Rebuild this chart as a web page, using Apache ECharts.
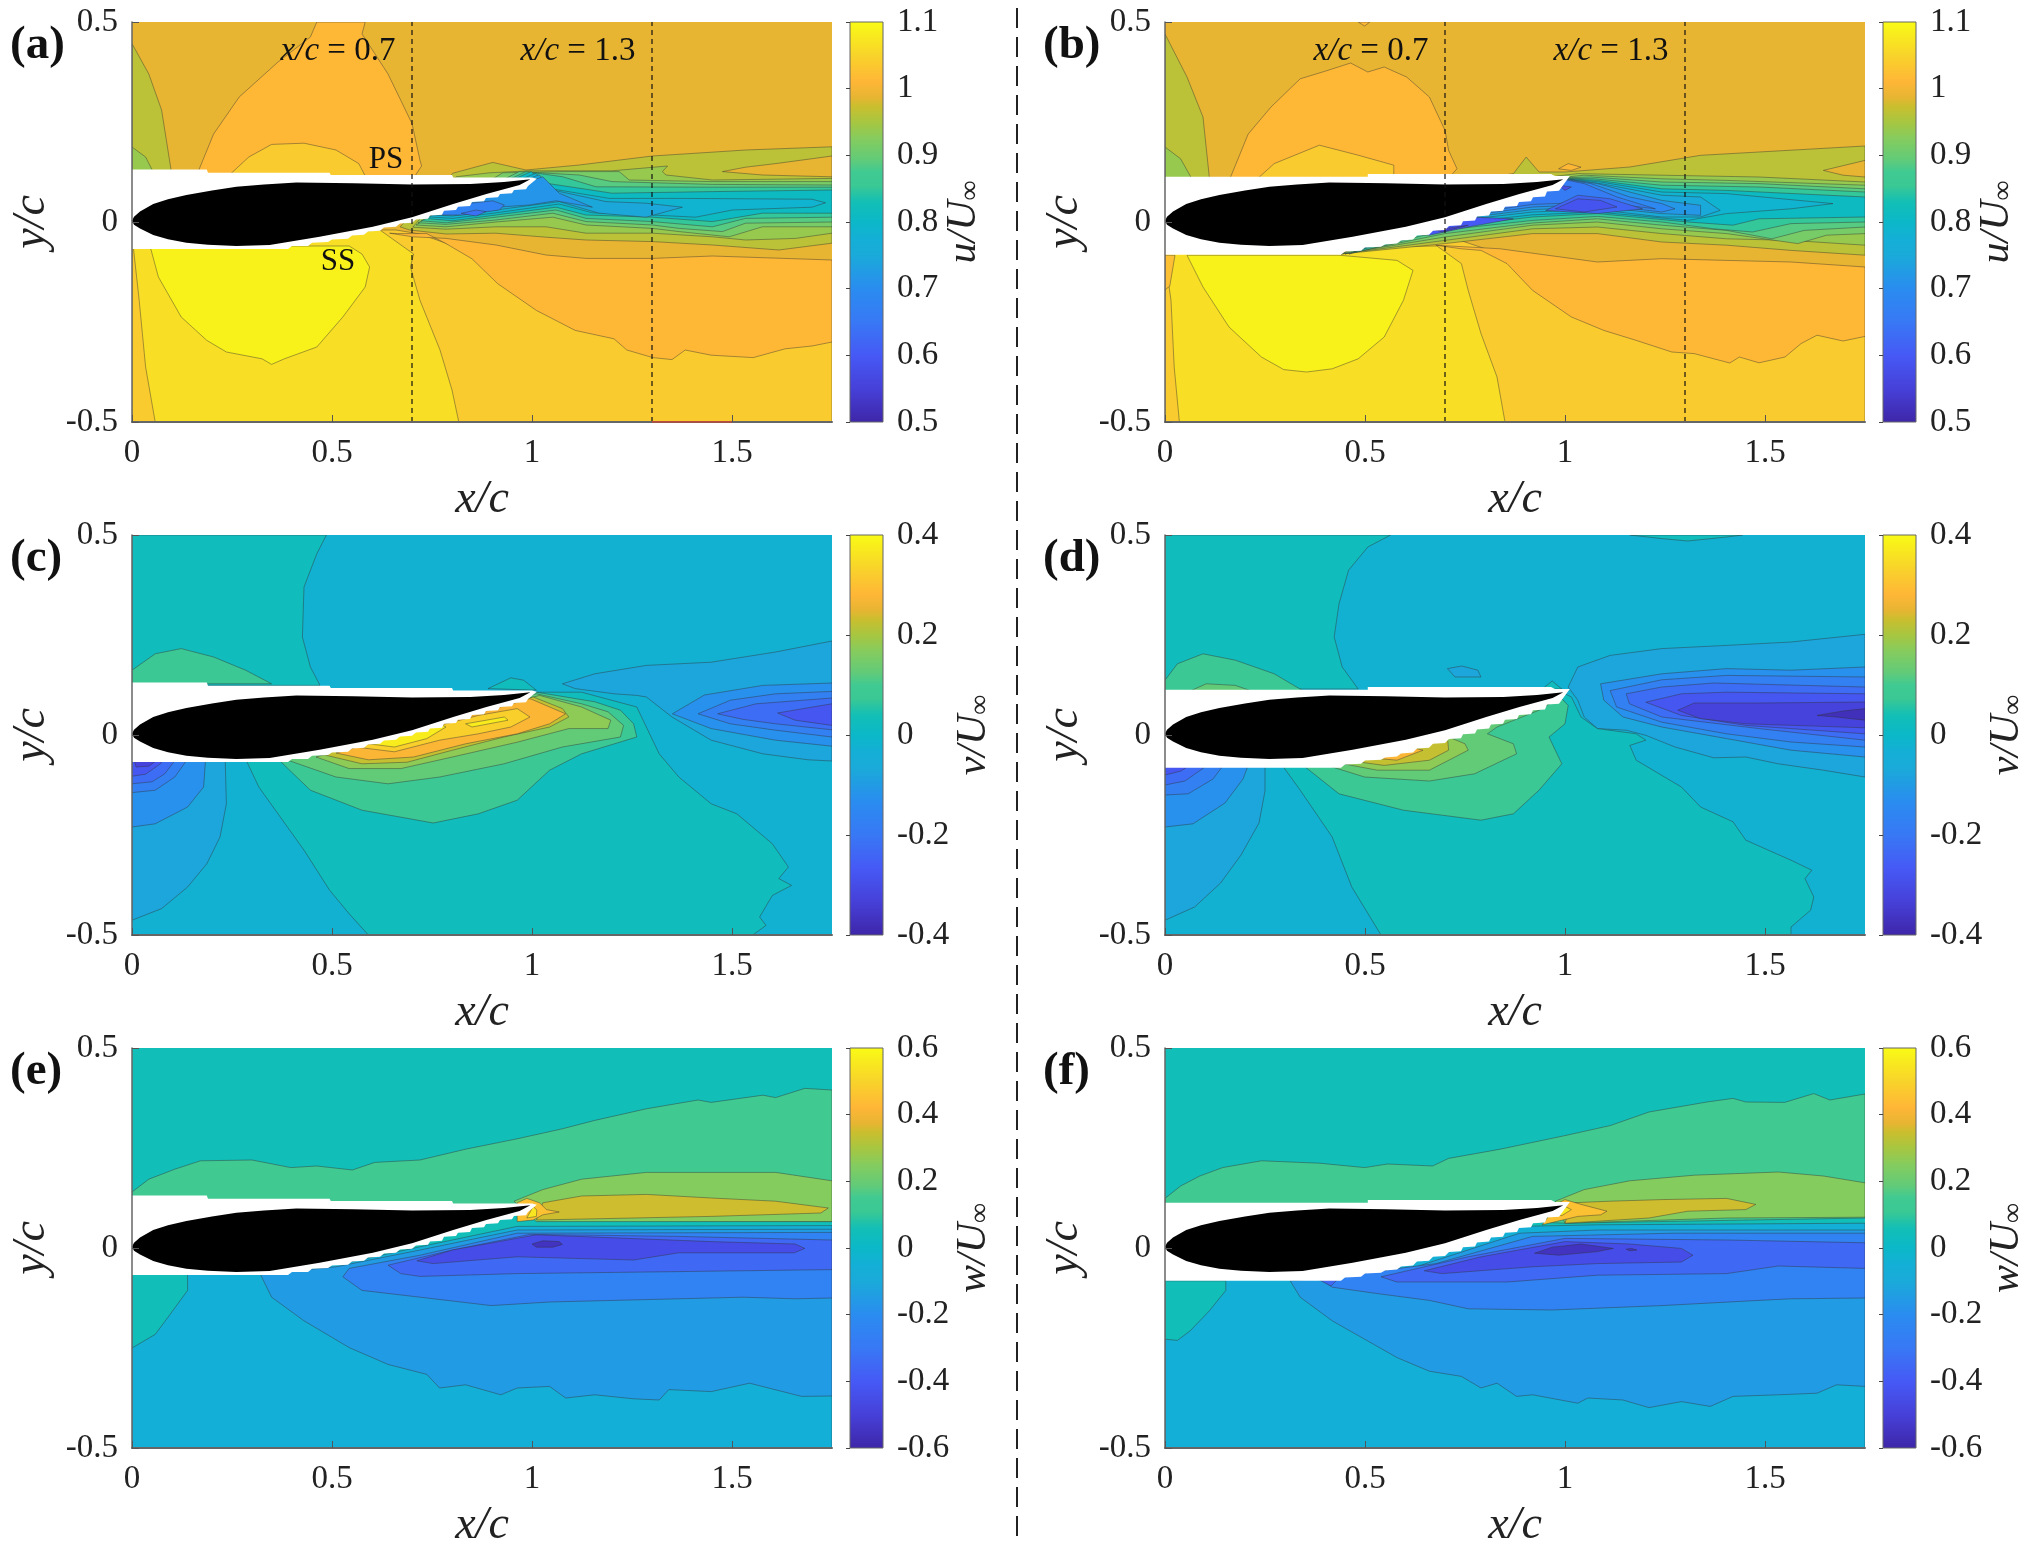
<!DOCTYPE html>
<html>
<head>
<meta charset="utf-8">
<style>html,body{margin:0;background:#fff}#main{width:2030px;height:1558px}</style>
<script src="https://cdn.jsdelivr.net/npm/echarts@6/dist/echarts.min.js"></script>
</head>
<body>
<div id="main"></div>
<script>
const xTicks = [0, 0.5, 1, 1.5]
const parulaStops = [[0,'#3E26A8'],[.083,'#4640D8'],[.167,'#4659F5'],[.25,'#3878F5'],[.333,'#2A8CF0'],[.417,'#1AAAD9'],[.458,'#14AFD6'],[.5,'#0BB8C8'],[.55,'#13BFB5'],[.59,'#3AC894'],[.625,'#40CA92'],[.656,'#62CB78'],[.708,'#85CC5E'],[.75,'#A8C640'],[.79,'#CCBE2E'],[.81,'#E6B532'],[.85,'#FFB637'],[.917,'#F8D42A'],[1,'#F9FB15']]

// foil outline and the blanked region round it (x/c, y/c pairs)
const foil = [0,.003,.005,.013,.02,.026,.053,.045,.09,.057,.136,.0675,.2,.079,.261,.088,.33,.094,.411,.099,.553,.097,.7,.094,.846,.095,.93,.1,.996,.107,.969,.0925,.886,.07,.803,.045,.7,.012,.602,-.012,.469,-.037,.344,-.0575,.261,-.06,.19,-.057,.136,-.052,.09,-.043,.053,-.0325,.02,-.016,.005,-.007]
const maskLeft = [0,.131,.187,.131,.19,.123,.494,.123,.497,.1175,.8,.1175,.803,.111,1,.111,1.012,.108,.99,.09,.985,.082,.955,.08,.95,.072,.92,.07,.915,.062,.885,.06,.88,.052,.85,.05,.845,.04,.815,.038,.81,.03,.78,.028,.775,.018,.745,.016,.74,.008,.71,.006,.7,-.002,.67,-.004,.66,-.012,.63,-.014,.62,-.022,.59,-.024,.58,-.032,.55,-.034,.54,-.042,.5,-.044,.49,-.05,.45,-.052,.44,-.06,.4,-.06,.39,-.0675,0,-.0675]
const maskRight = [0,.113,.507,.113,.507,.12,.965,.12,.975,.115,1.012,.115,.985,.078,.955,.076,.95,.064,.92,.062,.915,.052,.885,.05,.88,.04,.85,.038,.845,.028,.815,.026,.81,.016,.78,.014,.775,.004,.745,.002,.74,-.008,.71,-.01,.7,-.02,.67,-.022,.66,-.032,.63,-.034,.62,-.044,.59,-.046,.58,-.054,.55,-.056,.54,-.062,.5,-.064,.49,-.072,.45,-.074,.44,-.082,0,-.082]

// contour bands, painted in order: [band value, [x, y, x, y ...]]
const bandsA = [
[1.0125,[.163,.12,.204,.22,.268,.3125,.365,.4,.446,.4625,.462,.5,.583,.5,.575,.47,.64,.37,.672,.304,.7,.246,.72,.154,.724,.14,.704,.11]],
[1.0375,[.244,.118,.292,.1625,.349,.194,.43,.197,.51,.18,.567,.146,.583,.115]],
[.9625,[0,.446,.042,.37,.074,.28,.0985,.125,0,.125]],
[.9375,[0,.1875,.034,.1625,.053,.125,0,.125]],
[1.0375,[0,-.02,.66,-.02,.72,-.03,1.2,-.2,1.75,-.2,1.75,-.5,0,-.5]],
[1.0625,[.058,-.5,.034,-.3625,.018,-.196,.003,-.06,.62,-.02,.704,-.08,.696,-.1125,.72,-.196,.77,-.32,.8,-.42,.817,-.5]],
[1.0875,[.045,-.06,.066,-.1375,.123,-.2375,.187,-.296,.236,-.325,.325,-.342,.349,-.356,.381,-.342,.462,-.3125,.527,-.2375,.583,-.1625,.594,-.1125,.575,-.08,.543,-.06]],
[1.0125,[.644,-.028,.702,-.037,.785,-.041,.91,-.0575,1.035,-.0825,1.135,-.091,1.301,-.091,1.451,-.085,1.75,-.095,1.75,-.3,1.7,-.31,1.633,-.317,1.553,-.339,1.448,-.333,1.383,-.32,1.35,-.344,1.302,-.339,1.237,-.32,1.205,-.292,1.108,-.271,1.011,-.221,.914,-.154,.85,-.092,.785,-.054,.737,-.029,.664,-.029]],
[.9625,[.802,.122,.902,.149,.985,.13,1.118,.1425,1.301,.165,1.534,.18,1.75,.188,1.75,-.053,1.617,-.07,1.451,-.0575,1.301,-.049,1.135,-.045,1.035,-.038,.91,-.028,.785,-.03,.694,-.02,.67,-.012]],
[.9875,[1.476,.126,1.534,.137,1.617,.147,1.75,.165,1.75,.113,1.576,.1175]],
[.9375,[.81,.113,.894,.123,.993,.128,1.2,.128,1.339,.14,1.326,.126,1.335,.1175,1.451,.105,1.75,.109,1.75,-.028,1.659,-.041,1.534,-.045,1.451,-.037,1.301,-.028,1.135,-.028,1.035,-.012,.91,-.012,.785,-.018,.702,-.013]],
[.9125,[.927,.123,1.077,.126,1.218,.126,1.243,.105,1.451,.101,1.75,.101,1.75,-.012,1.576,-.012,1.493,-.037,1.368,-.024,1.301,-.016,1.135,-.0075,1.052,.012,.91,0,.785,-.012,.71,-.0075]],
[.8875,[.968,.126,1.118,.1175,1.2,.101,1.451,.094,1.75,.0925,1.75,0,1.534,-.003,1.476,-.024,1.368,-.016,1.301,-.0075,1.135,.001,1.052,.022,.91,.005,.785,-.006,.715,-.002]],
[.85,[.985,.126,1.077,.113,1.16,.088,1.451,.087,1.75,.087,1.75,.012,1.534,.009,1.451,-.012,1.301,.001,1.135,.009,1.06,.03,.91,.012,.785,-.002,.723,.003]],
[.81,[.998,.126,1.035,.097,1.2,.072,1.451,.076,1.75,.08,1.75,.022,1.576,.022,1.451,.001,1.301,.012,1.135,.0175,1.06,.037,.91,.0175,.802,.003,.731,.009]],
[.785,[1.01,.122,1.043,.084,1.193,.059,1.368,.059,1.7,.057,1.734,.048,1.7,.037,1.501,.03,1.409,.012,1.301,.0175,1.151,.023,1.068,.045,.91,.023,.802,.009,.74,.013]],
[.745,[1.018,.118,1.052,.08,1.185,.051,1.285,.047,1.376,.037,1.285,.012,1.168,.022,1.068,.051,.91,.03,.802,.015,.748,.0175]],
[.715,[1.027,.113,1.068,.072,1.151,.037,1.06,.053,.993,.0425,.91,.037,.802,.022,.756,.022]],
[.675,[.765,.026,.827,.045,.902,.053,.931,.0425,.918,.03,.827,.0175,.777,.0175]],
[.64,[.823,.0215,.86,.03,.885,.026,.86,.015]]
]
const bandsB = [
[1.0125,[.163,.11,.208,.22,.265,.2875,.338,.358,.402,.3775,.464,.3975,.507,.375,.548,.3875,.604,.3625,.661,.3125,.7,.229,.709,.179,.73,.133,.709,.11]],
[1.0125,[.483,.5,.499,.49,.512,.5]],
[1.0375,[.233,.11,.273,.146,.386,.192,.483,.167,.572,.142,.572,.11]],
[.9625,[0,.47,.055,.3625,.095,.2625,.111,.11,0,.11]],
[.9375,[0,.1875,.039,.158,.066,.11,0,.11]],
[1.0125,[.984,.133,1.008,.146,1.04,.137,1.016,.129]],
[1.0375,[0,-.02,.6,-.03,.72,-.04,1.2,-.2,1.75,-.2,1.75,-.5,0,-.5]],
[1.0625,[.036,-.5,.023,-.3625,.015,-.196,0,-.0875,0,-.07,.68,-.06,.741,-.104,.758,-.171,.79,-.279,.83,-.3875,.85,-.5]],
[1.0225,[0,-.083,.025,-.083,.012,-.16,0,-.17]],
[1.0875,[.055,-.083,.095,-.1625,.16,-.2625,.241,-.3375,.297,-.369,.354,-.375,.418,-.367,.483,-.342,.548,-.2875,.596,-.196,.62,-.121,.58,-.096,.435,-.083]],
[1.0125,[.677,-.058,.838,-.067,1.081,-.1,1.242,-.0917,1.404,-.096,1.565,-.1,1.75,-.1125,1.75,-.286,1.695,-.2975,1.63,-.283,1.59,-.304,1.55,-.3375,1.485,-.352,1.436,-.3375,1.412,-.3525,1.323,-.329,1.267,-.325,1.178,-.296,1.097,-.271,1.016,-.2375,.919,-.171,.855,-.104,.79,-.071,.741,-.067]],
[.9625,[.8,.11,.871,.121,.903,.1625,.935,.125,1,.125,1.162,.1375,1.339,.1667,1.485,.175,1.75,.19,1.75,-.083,1.565,-.071,1.404,-.058,1.242,-.05,1.081,-.029,.919,-.029,.7,-.054,.44,-.08]],
[.9875,[1.646,.129,1.75,.154,1.75,.1125,1.695,.117]],
[.9375,[1.032,.121,1.242,.117,1.485,.1125,1.75,.1,1.75,-.058,1.565,-.046,1.404,-.042,1.242,-.029,1.081,-.0125,.919,-.017,.7,-.046,.44,-.08,.98,.115]],
[.9125,[1.048,.117,1.242,.108,1.404,.104,1.75,.092,1.75,-.029,1.654,-.033,1.582,-.054,1.404,-.029,1.242,-.017,1.081,0,.919,-.008,.7,-.0375,.44,-.08,.98,.11]],
[.8875,[1.065,.1125,1.242,.1,1.485,.096,1.75,.083,1.75,-.0125,1.598,-.021,1.517,-.042,1.404,-.021,1.242,-.008,1.081,.008,.919,-.0025,.7,-.029,.45,-.08,.98,.11]],
[.85,[1.073,.108,1.242,.092,1.485,.0875,1.75,.075,1.75,0,1.565,-.004,1.469,-.025,1.372,-.017,1.242,0,1.081,.014,.919,.004,.7,-.02,.46,-.08,.98,.11]],
[.81,[1.081,.104,1.242,.083,1.404,.079,1.75,.0625,1.75,.0125,1.485,.008,1.42,-.008,1.307,0,1.081,.021,.919,.0125,.7,-.0125,.47,-.075,.98,.11]],
[.785,[1.089,.1,1.242,.075,1.404,.071,1.67,.046,1.565,.033,1.404,.021,1.307,.004,1.081,.025,.919,.018,.7,-.006,.48,-.07,.98,.11]],
[.75,[1.089,.096,1.242,.067,1.339,.0625,1.388,.029,1.339,.0125,1.242,.0125,1.081,.031,.919,.025,.7,0,.49,-.065,.98,.11]],
[.72,[1.081,.096,1.242,.054,1.339,.0417,1.339,.0167,1.242,.021,1.081,.0375,.919,.031,.7,.004,.5,-.06,.98,.11]],
[.69,[1.065,.096,1.162,.0625,1.242,.046,1.275,.033,1.242,.025,1.081,.044,.919,.0375,.7,.008,.52,-.055,.98,.11]],
[.66,[1.048,.096,1.13,.0625,1.226,.033,1.081,.05,.919,.044,.7,.0125,.54,-.045,.98,.11]],
[.62,[.952,.029,1.032,.067,1.113,.058,1.194,.033,1.081,.021]],
[.59,[.976,.033,1.032,.058,1.089,.054,1.13,.0375,1.048,.025]],
[.6,[.596,-.029,.758,.0125,.871,.008,.758,-.0125,.661,-.033]],
[.55,[.677,-.02,.758,-.008,.693,-.025]],
[.58,[.984,.092,1.016,.0875,1,.079]]
]
const bandsC = [
[.025,[0,.5,.486,.5,.462,.453,.43,.37,.426,.245,.446,.17,.47,.124,0,.124]],
[.075,[0,.162,.058,.203,.123,.216,.204,.195,.284,.162,.349,.128,0,.128]],
[.025,[.89,.116,.947,.143,.979,.137,1.011,.112]],
[-.075,[1.076,.128,1.157,.153,1.286,.174,1.448,.182,1.609,.2075,1.75,.235,1.75,-.065,1.69,-.062,1.577,-.047,1.448,-.013,1.35,.045,1.286,.095,1.262,.099,1.205,.103,1.108,.116]],
[-.125,[1.351,.053,1.431,.1,1.577,.124,1.75,.13,1.75,-.028,1.609,-.013,1.448,.016]],
[-.175,[1.415,.053,1.496,.087,1.609,.103,1.75,.109,1.75,-.005,1.609,.012,1.496,.028]],
[-.225,[1.464,.053,1.56,.078,1.75,.0925,1.75,.013,1.609,.028,1.528,.039]],
[-.275,[1.614,.055,1.69,.068,1.75,.078,1.75,.024,1.658,.037]],
[-.075,[0,-.463,.074,-.434,.139,-.38,.187,-.322,.22,-.255,.236,-.172,.233,-.06,0,-.06]],
[-.125,[0,-.23,.058,-.222,.139,-.18,.179,-.13,.184,-.06,0,-.06]],
[-.175,[0,-.144,.058,-.138,.107,-.105,.139,-.06,0,-.06]],
[-.225,[0,-.122,.05,-.117,.082,-.097,.11,-.06,0,-.06]],
[-.275,[0,-.103,.034,-.098,.071,-.072,.08,-.06,0,-.06]],
[-.325,[.01,-.08,.042,-.078,.066,-.06,.005,-.06]],
[.025,[.284,-.06,.317,-.13,.365,-.197,.43,-.288,.494,-.388,.543,-.447,.591,-.5,1.552,-.5,1.585,-.476,1.569,-.455,1.601,-.401,1.649,-.376,1.617,-.359,1.641,-.33,1.601,-.272,1.512,-.197,1.448,-.172,1.367,-.105,1.318,-.047,1.294,.003,1.262,.07,1.124,.107,1.011,.107]],
[.075,[.365,-.06,.446,-.138,.575,-.188,.753,-.22,.866,-.197,.963,-.163,1.044,-.088,1.124,-.047,1.262,-.005,1.254,.028,1.221,.062,1.157,.083,1.011,.107]],
[.125,[.381,-.06,.51,-.105,.64,-.122,.769,-.105,.93,-.072,1.076,-.03,1.221,-.005,1.229,.024,1.19,.058,1.124,.078,1.011,.103]],
[.175,[.46,-.055,.543,-.084,.672,-.084,.801,-.055,.963,-.018,1.092,.016,1.19,.016,1.197,.037,1.124,.07,1.019,.099]],
[.225,[.47,-.047,.575,-.072,.688,-.068,.801,-.038,.93,-.005,1.044,.02,1.092,.045,1.076,.066,1.003,.095]],
[.275,[.51,-.045,.591,-.062,.704,-.055,.834,-.022,.963,.003,1.044,.028,1.084,.053,1.044,.07,.995,.091]],
[.325,[.559,-.03,.656,-.042,.769,-.013,.866,.003,.947,.02,.995,.045,.963,.066,.866,.049]],
[.375,[.591,-.022,.656,-.03,.737,-.009,.785,.02,.769,.028]],
[.375,[.834,.028,.931,.045,.94,.037,.85,.02]]
]
const bandsD = [
[.025,[0,.5,.564,.5,.507,.47,.459,.412,.435,.328,.423,.245,.443,.17,.483,.115,0,.115]],
[.025,[1.162,.5,1.242,.491,1.307,.485,1.404,.495,1.444,.5]],
[.075,[0,.137,.031,.178,.095,.203,.176,.187,.273,.153,.346,.11,0,.11]],
[.125,[.063,.11,.103,.128,.176,.124,.216,.11]],
[-.075,[.706,.166,.742,.1725,.782,.162,.79,.145,.725,.145]],
[.025,[.943,.115,.968,.135,.992,.115]],
[-.075,[1.008,.12,1.032,.17,1.113,.199,1.242,.216,1.404,.224,1.565,.2325,1.75,.2517,1.75,-.105,1.646,-.088,1.533,-.072,1.452,-.055,1.372,-.057,1.275,-.03,1.202,-.0008,1.153,.012,1.081,.016,1.048,.045,1.032,.087]],
[-.075,[0,-.463,.074,-.43,.139,-.37,.19,-.3,.235,-.22,.25,-.14,.25,-.07,0,-.07]],
[-.125,[0,-.23,.07,-.222,.15,-.17,.195,-.11,.21,-.07,0,-.07]],
[-.175,[0,-.15,.058,-.147,.12,-.11,.15,-.07,0,-.07]],
[-.225,[0,-.125,.05,-.115,.1,-.08,.105,-.07,0,-.07]],
[-.275,[0,-.1,.04,-.09,.07,-.07,0,-.07]],
[.025,[.289,-.07,.338,-.138,.418,-.255,.467,-.38,.54,-.5,1.565,-.5,1.565,-.48,1.614,-.438,1.622,-.405,1.6,-.359,1.617,-.338,1.565,-.313,1.452,-.263,1.42,-.217,1.339,-.18,1.291,-.13,1.178,-.063,1.162,-.026,1.202,-.013,1.178,.003,1.081,.016,1.04,.045,1.016,.095,1,.103]],
[.075,[.338,-.07,.435,-.147,.596,-.188,.79,-.213,.871,-.197,.935,-.138,.992,-.072,.96,-.005,1,.028,1.008,.074,.984,.099]],
[.125,[.386,-.07,.499,-.105,.661,-.115,.774,-.097,.879,-.047,.871,-.022,.806,.003,.83,.02,.935,.062,.976,.087]],
[.175,[.435,-.07,.531,-.088,.661,-.088,.758,-.038,.75,-.022,.709,-.005,.65,0]],
[.225,[.467,-.065,.548,-.076,.661,-.063,.709,-.038,.706,-.005,.62,-.005]],
[.275,[.512,-.057,.58,-.063,.645,-.038,.612,-.03]],
[-.125,[1.089,.128,1.242,.153,1.404,.166,1.565,.162,1.75,.17,1.75,-.055,1.565,-.038,1.404,-.009,1.242,.02,1.145,.045,1.097,.087]],
[-.175,[1.113,.111,1.242,.138,1.404,.149,1.75,.145,1.75,-.03,1.565,-.0175,1.404,.003,1.242,.032,1.129,.07]],
[-.225,[1.153,.103,1.242,.12,1.372,.13,1.75,.12,1.75,-.013,1.485,.016,1.242,.045,1.161,.078]],
[-.275,[1.202,.082,1.291,.103,1.404,.107,1.75,.103,1.75,.003,1.452,.024,1.291,.049]],
[-.325,[1.282,.062,1.323,.08,1.485,.08,1.75,.0825,1.75,.018,1.452,.028,1.339,.041]],
[-.375,[1.63,.049,1.695,.06,1.75,.066,1.75,.037,1.678,.045]]
]
const bandsE = [
[.15,[0,.14,.042,.172,.107,.197,.171,.218,.3,.22,.397,.201,.462,.205,.551,.195,.607,.214,.72,.22,.834,.247,.963,.273,1.076,.298,1.157,.319,1.286,.348,1.415,.37,1.448,.364,1.577,.382,1.609,.376,1.682,.399,1.75,.395,1.75,.066,1.044,.07,.963,.1,0,.12]],
[.25,[.955,.117,1.027,.146,1.124,.172,1.286,.189,1.448,.189,1.609,.189,1.75,.168,1.75,.066,1.011,.066]],
[.35,[1.027,.113,1.124,.13,1.286,.134,1.448,.125,1.609,.117,1.741,.1,1.722,.0875,1.448,.079,1.011,.07]],
[.45,[.963,.113,.987,.124,1.019,.113,1.036,.096,1.068,.09,1.027,.083,1.003,.07,.963,.066]],
[.55,[1.003,.104,1.012,.095,1.011,.079,.987,.075]],
[-.05,[.527,-.039,.72,.003,.963,.054,1.75,.056,1.75,-.5,0,-.5,0,-.02]],
[.05,[0,-.066,.139,-.066,.139,-.106,.09,-.173,.058,-.216,0,-.25]],
[-.15,[.321,-.066,.349,-.123,.43,-.182,.543,-.249,.64,-.291,.737,-.316,.769,-.35,.834,-.342,.922,-.367,.963,-.35,1.044,-.346,1.084,-.375,1.157,-.367,1.254,-.377,1.318,-.38,1.342,-.354,1.448,-.359,1.544,-.338,1.674,-.371,1.75,-.37,1.75,.047,.963,.045,.72,-.005,.51,-.047]],
[-.25,[.527,-.072,.575,-.106,.72,-.123,.898,-.144,1.044,-.135,1.205,-.131,1.367,-.127,1.528,-.123,1.658,-.127,1.75,-.125,1.75,.039,.963,.037,.72,-.018,.543,-.051]],
[-.35,[.64,-.043,.672,-.064,.72,-.071,.963,-.064,1.286,-.06,1.75,-.054,1.75,.02,1.367,.029,.995,.034,.801,-.005]],
[-.45,[.712,-.032,.753,-.039,.963,-.022,1.254,-.03,1.367,-.012,1.656,-.012,1.682,-.001,1.658,.01,1.448,.016,1.011,.033,.801,-.005]],
[-.55,[1,.01,1.027,.018,1.068,.016,1.076,.009,1.052,.002,1.011,.002]]
]
const bandsF = [
[.15,[0,.124,.039,.155,.087,.18,.144,.201,.241,.218,.386,.212,.499,.201,.556,.21,.669,.205,.709,.224,.838,.247,1,.281,1.113,.306,1.21,.34,1.355,.365,1.42,.374,1.452,.365,1.549,.364,1.622,.386,1.662,.37,1.75,.385,1.75,.075,1,.062,0,.1]],
[.25,[.976,.117,1.048,.146,1.162,.168,1.323,.182,1.533,.19,1.646,.18,1.75,.163,1.75,.077,1.404,.075,1,.062]],
[.35,[1.016,.113,1.113,.117,1.242,.121,1.404,.124,1.477,.109,1.452,.096,1.307,.092,1.21,.075,1,.062]],
[.45,[.984,.113,1,.121,1.04,.109,1.105,.092,1.089,.083,1.032,.079,.943,.058]],
[.55,[.96,.09,.992,.108,1.016,.096,.992,.081]],
[-.05,[.483,-.047,.887,.054,1.081,.058,1.75,.062,1.75,-.5,0,-.5,0,-.02]],
[.05,[0,-.082,.152,-.082,.152,-.106,.111,-.157,.063,-.207,.031,-.231,0,-.228]],
[-.15,[.313,-.082,.338,-.123,.418,-.182,.515,-.237,.58,-.274,.661,-.308,.741,-.321,.79,-.35,.83,-.338,.879,-.371,.919,-.367,1.032,-.388,1.057,-.375,1.145,-.38,1.21,-.399,1.291,-.384,1.363,-.396,1.42,-.371,1.533,-.367,1.63,-.363,1.679,-.342,1.75,-.346,1.75,.045,1.081,.045,.887,.037,.628,-.047,.46,-.07]],
[-.25,[.386,-.077,.418,-.098,.531,-.114,.661,-.131,.758,-.152,.968,-.155,1.242,-.144,1.485,-.131,1.565,-.127,1.75,-.125,1.75,.037,1.27,.037,.919,.029,.677,-.039]],
[-.35,[.54,-.072,.58,-.085,.855,-.085,1.081,-.068,1.404,-.064,1.533,-.045,1.75,-.051,1.75,.013,1.404,.02,1,.024,.758,-.022]],
[-.35,[.386,-.08,.43,-.08,.415,-.095]],
[-.45,[.648,-.057,.693,-.064,.919,-.047,1.081,-.039,1.291,-.035,1.32,-.018,1.291,-.001,1.162,.01,1,.016,.79,-.022]],
[-.55,[.924,-.013,.968,.002,1.04,.01,1.121,-.001,1.081,-.009,.984,-.018]],
[-.55,[1.153,-.003,1.166,-.001,1.18,-.005,1.162,-.007]]
]

const stations = [0.7, 1.3]
const redEdge = [[1.3, -0.5], [1.5, -0.5]]

const panels = [
  { tag: '(a)', bg: .9875, bands: bandsA, mask: maskLeft, left: 132, top: 22, cmin: .5, cmax: 1.1, step: .1, q: 'u', stations: true },
  { tag: '(b)', bg: .9875, bands: bandsB, mask: maskRight, left: 1165, top: 22, cmin: .5, cmax: 1.1, step: .1, q: 'u', stations: true },
  { tag: '(c)', bg: -.025, bands: bandsC, mask: maskLeft, left: 132, top: 535, cmin: -.4, cmax: .4, step: .2, q: 'v' },
  { tag: '(d)', bg: -.025, bands: bandsD, mask: maskRight, left: 1165, top: 535, cmin: -.4, cmax: .4, step: .2, q: 'v' },
  { tag: '(e)', bg: .05, bands: bandsE, mask: maskLeft, left: 132, top: 1048, cmin: -.6, cmax: .6, step: .2, q: 'w' },
  { tag: '(f)', bg: .05, bands: bandsF, mask: maskRight, left: 1165, top: 1048, cmin: -.6, cmax: .6, step: .2, q: 'w' }
]

const FONT = 'Liberation Serif'

function parula(t) {
  for (let i = 1; i < parulaStops.length; i++) {
    if (t <= parulaStops[i][0]) {
      const a = parulaStops[i - 1], b = parulaStops[i]
      return echarts.color.lerp((t - a[0]) / (b[0] - a[0]), [a[1], b[1]])
    }
  }
  return parulaStops[parulaStops.length - 1][1]
}

function toPoints(flat, api) {
  const pts = []
  for (let i = 0; i < flat.length; i += 2) pts.push(api.coord([flat[i], flat[i + 1]]))
  return pts
}

const grid = [], xAxis = [], yAxis = [], series = [], graphic = []

panels.forEach((p, i) => {
  const g = i * 2, c = i * 2 + 1
  grid.push({ left: p.left, top: p.top, width: 700, height: 400 })
  grid.push({ left: p.left + 718, top: p.top, width: 33, height: 400 })

  xAxis.push({
    gridIndex: g, type: 'value', min: 0, max: 1.75, z: 20,
    splitLine: { show: false },
    axisLine: { onZero: false, lineStyle: { color: '#666', width: 2 } },
    axisTick: { inside: true, length: 7, lineStyle: { color: '#555' }, customValues: xTicks },
    axisLabel: { customValues: xTicks, margin: 15, color: '#222', fontFamily: FONT, fontSize: 33 },
    name: 'x/c', nameLocation: 'middle', nameGap: 55,
    nameTextStyle: { fontFamily: FONT, fontStyle: 'italic', fontSize: 46, color: '#222' }
  })
  yAxis.push({
    gridIndex: g, type: 'value', min: -.5, max: .5, interval: .5, z: 20,
    splitLine: { show: false },
    axisLine: { show: true, onZero: false, lineStyle: { color: '#666', width: 1.5 } },
    axisTick: { show: true, inside: true, length: 7, lineStyle: { color: '#555' } },
    axisLabel: { margin: 14, color: '#222', fontFamily: FONT, fontSize: 33 },
    name: 'y/c', nameLocation: 'middle', nameGap: 77,
    nameTextStyle: { fontFamily: FONT, fontStyle: 'italic', fontSize: 46, color: '#222' }
  })
  xAxis.push({ gridIndex: c, type: 'value', min: 0, max: 1, show: false })
  yAxis.push({
    gridIndex: c, type: 'value', position: 'right', min: p.cmin, max: p.cmax, interval: p.step, z: 20,
    splitLine: { show: false },
    axisLine: { show: false },
    axisTick: { show: true, inside: true, length: 4, lineStyle: { color: '#444' } },
    axisLabel: { margin: 14, color: '#222', fontFamily: FONT, fontSize: 33 },
    name: '{i|' + p.q + '/U}{s|∞}', nameLocation: 'middle', nameGap: 60, nameRotate: 90,
    nameTextStyle: {
      rich: {
        i: { fontFamily: FONT, fontStyle: 'italic', fontSize: 42, color: '#222' },
        s: { fontFamily: FONT, fontSize: 28, color: '#222', verticalAlign: 'bottom' }
      }
    }
  })

  // filled contours, then the blanked region and the foil on top
  const range = p.cmax - p.cmin
  const bgRect = [0, -.5, 1.75, -.5, 1.75, .5, 0, .5]
  const shapes = [{ pts: bgRect, fill: parula((p.bg - p.cmin) / range) }]
    .concat(p.bands.map(b => ({ pts: b[1], fill: parula((b[0] - p.cmin) / range), stroke: 'rgba(50,50,50,0.55)' })))
    .concat([{ pts: p.mask, fill: '#fff' }, { pts: foil, fill: '#000' }])
  series.push({
    type: 'custom', xAxisIndex: g, yAxisIndex: g, z: 2, silent: true, animation: false, clip: true,
    data: shapes.map(() => [0, 0]),
    renderItem(params, api) {
      const s = shapes[params.dataIndex]
      return {
        type: 'polygon',
        shape: { points: toPoints(s.pts, api) },
        style: { fill: s.fill, stroke: s.stroke || null, lineWidth: s.stroke ? 0.8 : 0 }
      }
    }
  })

  // colour bar
  series.push({
    type: 'custom', xAxisIndex: c, yAxisIndex: c, z: 2, silent: true, animation: false,
    data: [[0, p.cmin]],
    renderItem(params, api) {
      const a = api.coord([0, p.cmax]), b = api.coord([1, p.cmin])
      return {
        type: 'rect',
        shape: { x: a[0], y: a[1], width: b[0] - a[0], height: b[1] - a[1] },
        style: {
          fill: new echarts.graphic.LinearGradient(0, 1, 0, 0, parulaStops.map(s => ({ offset: s[0], color: s[1] }))),
          stroke: '#666', lineWidth: 1
        }
      }
    }
  })

  graphic.push({
    type: 'text', x: p.left - 122, y: p.top + 24, z: 30,
    style: { text: p.tag, fill: '#111', font: 'bold 47px "' + FONT + '"', align: 'left', verticalAlign: 'middle' }
  })

  if (p.stations) {
    stations.forEach(st => {
      series.push({
        type: 'line', xAxisIndex: g, yAxisIndex: g, z: 5, silent: true, animation: false, showSymbol: false,
        lineStyle: { color: '#111', width: 1.2, type: [5, 4] },
        data: [[st, -.5], [st, .5]]
      })
      graphic.push({
        type: 'text', x: p.left + (st === .7 ? 206 : 446), y: p.top + 29, z: 30,
        style: {
          text: '{i|x/c}{n| = ' + st + '}', align: 'center', verticalAlign: 'middle',
          rich: {
            i: { font: 'italic 33px "' + FONT + '"', fill: '#111' },
            n: { font: '33px "' + FONT + '"', fill: '#111' }
          }
        }
      })
    })
  }
})

series.push({
  type: 'line', xAxisIndex: 0, yAxisIndex: 0, z: 25, silent: true, animation: false, showSymbol: false,
  lineStyle: { color: '#D0452F', width: 1.5 }, data: redEdge
})

graphic.push(
  { type: 'text', x: 386, y: 160, z: 30, style: { text: 'PS', fill: '#111', font: '31px "' + FONT + '"', align: 'center', verticalAlign: 'middle' } },
  { type: 'text', x: 338, y: 262, z: 30, style: { text: 'SS', fill: '#111', font: '31px "' + FONT + '"', align: 'center', verticalAlign: 'middle' } },
  { type: 'line', z: 30, shape: { x1: 1017, y1: 8, x2: 1017, y2: 1542 }, style: { stroke: '#222', lineWidth: 2, lineDash: [20, 9] } }
)

const myChart = echarts.init(document.getElementById('main'), null, { renderer: 'canvas' })
myChart.setOption({ backgroundColor: '#fff', animation: false, grid, xAxis, yAxis, series, graphic })
</script>
</body>
</html>
